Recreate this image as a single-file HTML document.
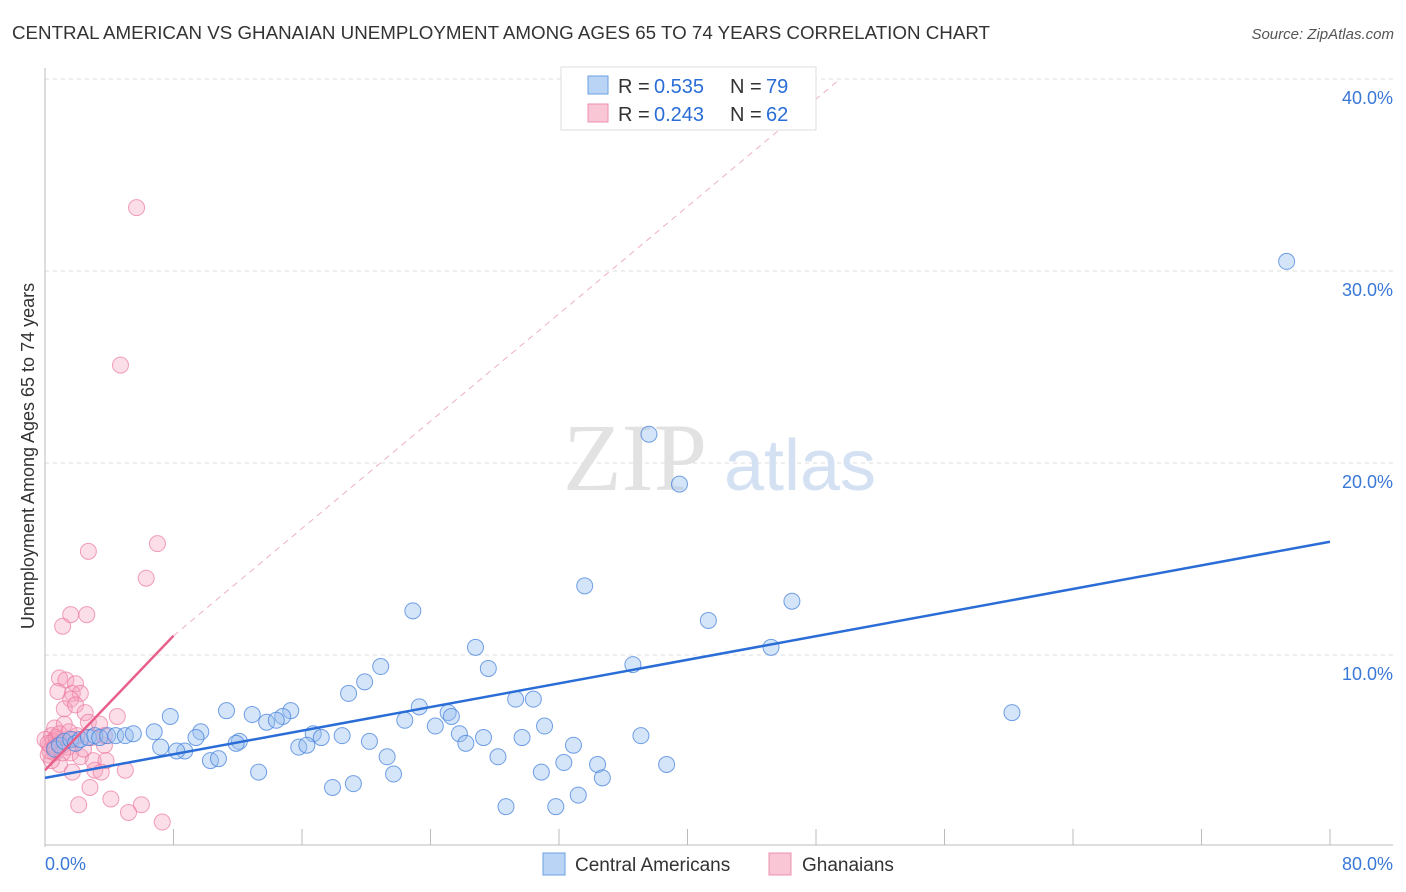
<!DOCTYPE html>
<html><head><meta charset="utf-8"><style>
body{margin:0;background:#fff;font-family:"Liberation Sans",sans-serif}
svg{display:block}
</style></head><body>
<svg width="1406" height="892" xmlns="http://www.w3.org/2000/svg">
<text x="12" y="39" font-size="18" fill="#333" textLength="978" lengthAdjust="spacingAndGlyphs">CENTRAL AMERICAN VS GHANAIAN UNEMPLOYMENT AMONG AGES 65 TO 74 YEARS CORRELATION CHART</text>
<text x="1394" y="39" font-size="15" fill="#555" font-style="italic" text-anchor="end">Source: ZipAtlas.com</text>
<g id="grid"></g>
<text x="635" y="490" font-size="96" fill="#e2e2e2" font-family="Liberation Serif" text-anchor="middle">ZIP</text>
<text x="800" y="490" font-size="72" fill="#d3e1f3" text-anchor="middle">atlas</text>
<text transform="translate(34,456) rotate(-90)" font-size="18" fill="#333" text-anchor="middle">Unemployment Among Ages 65 to 74 years</text>
<g id="marks"></g>
<g>
<rect x="561" y="67" width="255" height="63" fill="#fff" stroke="#ddd"/>
<rect x="588" y="76" width="20" height="18" fill="#b9d4f5" stroke="#6a9fe0"/>
<rect x="588" y="104" width="20" height="18" fill="#f9c6d6" stroke="#ee8fad"/>
<text x="618" y="93" font-size="20" fill="#333">R =</text><text x="654" y="93" font-size="20" fill="#2a6dd6">0.535</text>
<text x="730" y="93" font-size="20" fill="#333">N =</text><text x="766" y="93" font-size="20" fill="#2a6dd6">79</text>
<text x="618" y="121" font-size="20" fill="#333">R =</text><text x="654" y="121" font-size="20" fill="#2a6dd6">0.243</text>
<text x="730" y="121" font-size="20" fill="#333">N =</text><text x="766" y="121" font-size="20" fill="#2a6dd6">62</text>
</g>
<g>
<rect x="543" y="853" width="22" height="22" fill="#b9d4f5" stroke="#6a9fe0"/>
<text x="575" y="871" font-size="19" fill="#333">Central Americans</text>
<rect x="769" y="853" width="22" height="22" fill="#f9c6d6" stroke="#ee8fad"/>
<text x="802" y="871" font-size="19" fill="#333">Ghanaians</text>
</g>
<text x="45" y="870" font-size="18" fill="#3a78d8">0.0%</text>
<text x="1393" y="870" font-size="18" fill="#3a78d8" text-anchor="end">80.0%</text>
</svg>
<script>
const yTicks=[10,20,30,40];
const yTickLabels=["10.0%","20.0%","30.0%","40.0%"];
const xTicks=[0,8,16,24,32,40,48,56,64,72,80];
const blueX=[77.3,37.6,39.5,33.6,46.5,22.9,41.3,45.2,26.8,36.6,20.9,27.6,19.9,18.9,29.3,30.4,23.3,60.2,15.3,11.3,12.9,14.8,7.8,25.1,25.3,22.4,13.8,14.4,31.1,24.3,9.7,6.8,16.7,17.2,18.5,37.1,25.8,9.4,27.3,29.7,12.1,11.9,20.2,26.2,15.8,16.3,7.2,32.9,8.7,8.2,21.3,28.2,10.3,10.8,32.3,34.4,38.7,13.3,21.7,30.9,34.7,19.2,17.9,33.2,28.7,31.8,0.6,0.9,1.2,1.6,1.9,2.2,2.7,3.1,3.4,3.9,4.4,5.0,5.5];
const blueY=[30.5,21.5,18.9,13.6,12.8,12.3,11.8,10.4,10.4,9.5,9.4,9.3,8.6,8.0,7.7,7.7,7.3,7.0,7.1,7.1,6.9,6.8,6.8,7.0,6.8,6.6,6.5,6.6,6.3,6.3,6.0,6.0,5.9,5.7,5.8,5.8,5.9,5.7,5.7,5.7,5.5,5.4,5.5,5.4,5.2,5.3,5.2,5.3,5.0,5.0,4.7,4.7,4.5,4.6,4.4,4.3,4.3,3.9,3.8,3.9,3.6,3.3,3.1,2.7,2.1,2.1,5.1,5.3,5.5,5.6,5.4,5.6,5.7,5.8,5.7,5.8,5.8,5.8,5.9];
const pinkX=[5.7,4.7,2.7,7.0,6.3,1.6,2.6,1.1,0.9,1.3,1.9,0.8,1.7,2.2,1.6,1.2,1.9,2.5,4.5,2.7,0.6,0.4,0.8,1.1,0.3,0.6,0.2,3.7,1.6,2.2,3.0,3.8,0.9,1.7,3.1,3.5,5.0,2.8,4.1,2.1,6.0,5.2,7.3,0,0.4,1.2,3.4,3.7,0.5,0.7,1.0,1.4,0.3,0.9,1.8,2.4,0.2,1.5,2.0,0.6,1.1,2.9];
const pinkY=[33.3,25.1,15.4,15.8,14.0,12.1,12.1,11.5,8.8,8.7,8.5,8.1,8.0,8.0,7.7,7.2,7.4,7.0,6.8,6.5,6.2,5.8,5.6,5.3,5.3,4.9,4.8,5.3,4.9,4.7,4.5,4.5,4.3,3.9,4.0,3.9,4.0,3.1,2.5,2.2,2.2,1.8,1.3,5.6,4.5,6.4,6.4,5.8,5.5,5.7,5.4,5.2,5.0,5.9,5.6,5.1,5.4,6.0,5.8,5.2,4.9,5.7];
const blueTrend=[[0,3.6],[80,15.9]];
const pinkTrend=[[0,4.0],[8,11.0]];
const pinkDash=[[8,11.0],[49.5,40]];
const X0=45,X1=1330,Y0=847;
const sx=v=>X0+(X1-X0)*v/80, sy=v=>Y0-19.2*v;
const NS="http://www.w3.org/2000/svg";
const g=document.getElementById('grid'), m=document.getElementById('marks');
function el(t,a,p){const e=document.createElementNS(NS,t);for(const k in a)e.setAttribute(k,a[k]);p.appendChild(e);return e;}
yTicks.forEach((t,i)=>{
 const l=el('line',{x1:X0,x2:1393,y1:sy(t),y2:sy(t),stroke:'#ddd','stroke-dasharray':'4,4'},g);
 
 
 const tx=el('text',{x:1393,y:sy(t)+25,'font-size':18,fill:'#3a78d8','text-anchor':'end'},g);
 tx.textContent=yTickLabels[i];
 
 
});
const ax=el('line',{x1:X0,x2:X0,y1:68,y2:Y0,stroke:'#bbb'},g);


const bx=el('line',{x1:X0,x2:1393,y1:Y0-2,y2:Y0-2,stroke:'#bbb'},g);


xTicks.forEach(t=>{
 const l=el('line',{x1:sx(t),x2:sx(t),y1:Y0-2,y2:Y0-18,stroke:'#bbb'},g);
 
 
});
pinkX.forEach((x,i)=>{
 const c=el('circle',{cx:sx(x),cy:sy(pinkY[i]),r:8,fill:'rgba(245,160,188,0.35)',stroke:'rgba(235,120,158,0.7)','stroke-width':1},m);
 
 
});
blueX.forEach((x,i)=>{
 const c=el('circle',{cx:sx(x),cy:sy(blueY[i]),r:8,fill:'rgba(150,190,240,0.4)',stroke:'rgba(70,130,220,0.75)','stroke-width':1},m);
 
 
});
const pd=el('line',{x1:sx(pinkDash[0][0]),y1:sy(pinkDash[0][1]),x2:sx(pinkDash[1][0]),y2:sy(pinkDash[1][1]),stroke:'#eeb0c4','stroke-width':1,'stroke-dasharray':'6,5'},m);


const pt=el('line',{x1:sx(pinkTrend[0][0]),y1:sy(pinkTrend[0][1]),x2:sx(pinkTrend[1][0]),y2:sy(pinkTrend[1][1]),stroke:'#e8608a','stroke-width':2.5},m);


const bt=el('line',{x1:sx(blueTrend[0][0]),y1:sy(blueTrend[0][1]),x2:sx(blueTrend[1][0]),y2:sy(blueTrend[1][1]),stroke:'#2a6dd6','stroke-width':2.5},m);


</script>
</body></html>
